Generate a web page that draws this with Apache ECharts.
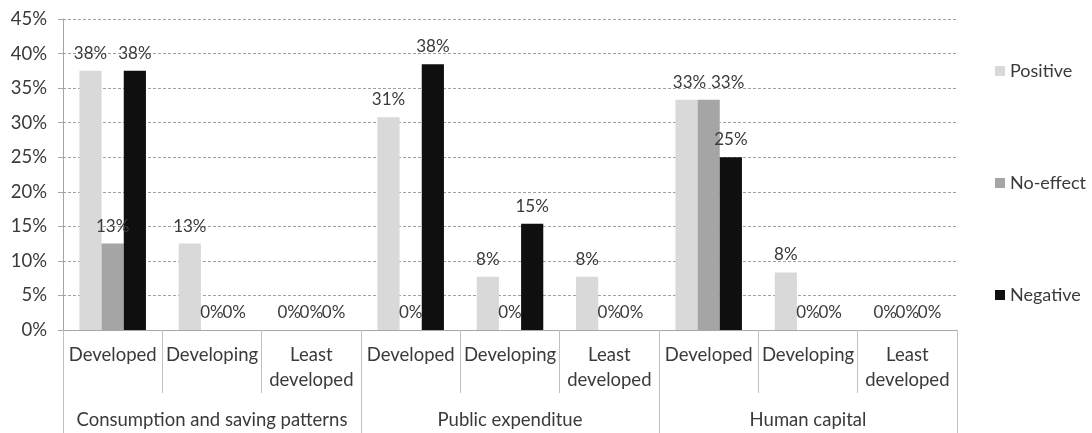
<!DOCTYPE html>
<html><head><meta charset="utf-8">
<script src="https://cdn.jsdelivr.net/npm/echarts@6/dist/echarts.min.js"></script>
<style>html,body{margin:0;padding:0;background:#fff}#c{width:1092px;height:433px}</style>
</head><body><div id="c"></div>
<script>
const subCategories = ['Developed','Developing','Least\ndeveloped','Developed','Developing','Least\ndeveloped','Developed','Developing','Least\ndeveloped'];
const groupCategories = ['Consumption and saving patterns','Public expenditue','Human capital'];
const positive = [37.5, 12.5, 0, 30.77, 7.69, 7.69, 33.33, 8.33, 0];
const noEffect = [12.5, 0, 0, 0, 0, 0, 33.33, 0, 0];
const negative = [37.5, 0, 0, 38.46, 15.38, 0, 25, 0, 0];
const yTicks = [0,5,10,15,20,25,30,35,40,45];

const FONT = 'Lato';
const TXT = '#3a3a3a';
const chart = echarts.init(document.getElementById('c'), null, {renderer:'canvas'});
const lbl = {show:true, position:'top', distance:9, color:TXT, fontFamily:FONT, fontSize:17,
  formatter: p => Math.round(p.value) + '%'};
// label nudges (Excel-style collision avoidance) keyed by category index
function ser(name, data, color, nudge){
  return {name, type:'bar', barGap:'0%', barCategoryGap:'33%',
    data: data.map((v,i) => nudge && nudge[i] ? {value:v, label:{offset:[nudge[i],0]}} : v),
    itemStyle:{color}, label:lbl, emphasis:{disabled:true}};
}
chart.setOption({
  animation:false,
  grid:{left:63, right:135, top:19, bottom:103, containLabel:false},
  legend:{orient:'vertical', left:990, top:57, itemWidth:10, itemHeight:10, itemGap:94,
    icon:'rect', textStyle:{color:TXT, fontFamily:FONT, fontSize:18, lineHeight:18},
    data:['Positive','No-effect','Negative']},
  xAxis:[
    {type:'category', data:subCategories, position:'bottom',
     axisLine:{lineStyle:{color:'#a6a6a6'}},
     axisTick:{show:true, interval:0, length:63, lineStyle:{color:'#c0c0c0'}},
     axisLabel:{interval:0, margin:13, color:TXT, fontFamily:FONT, fontSize:18.5, lineHeight:25}},
    {type:'category', data:groupCategories, position:'bottom',
     axisLine:{show:false},
     axisTick:{show:true, interval:0, length:103, lineStyle:{color:'#c0c0c0'}},
     axisLabel:{interval:0, margin:81, color:TXT, fontFamily:FONT, fontSize:18.5}}
  ],
  yAxis:{type:'value', min:0, max:45, interval:5,
    axisLine:{show:true, lineStyle:{color:'#a6a6a6'}},
    axisTick:{show:true, length:5, lineStyle:{color:'#a6a6a6'}},
    axisLabel:{margin:16, color:TXT, fontFamily:FONT, fontSize:18.5, formatter: v => v + '%'},
    splitLine:{show:true, lineStyle:{color:'#a0a0a0', type:[3,2], width:1}}},
  series:[
    ser('Positive', positive, '#d9d9d9', {6:3}),
    ser('No-effect', noEffect, '#a5a5a5', {6:19}),
    ser('Negative', negative, '#0f0f0f')
  ]
});
</script></body></html>
